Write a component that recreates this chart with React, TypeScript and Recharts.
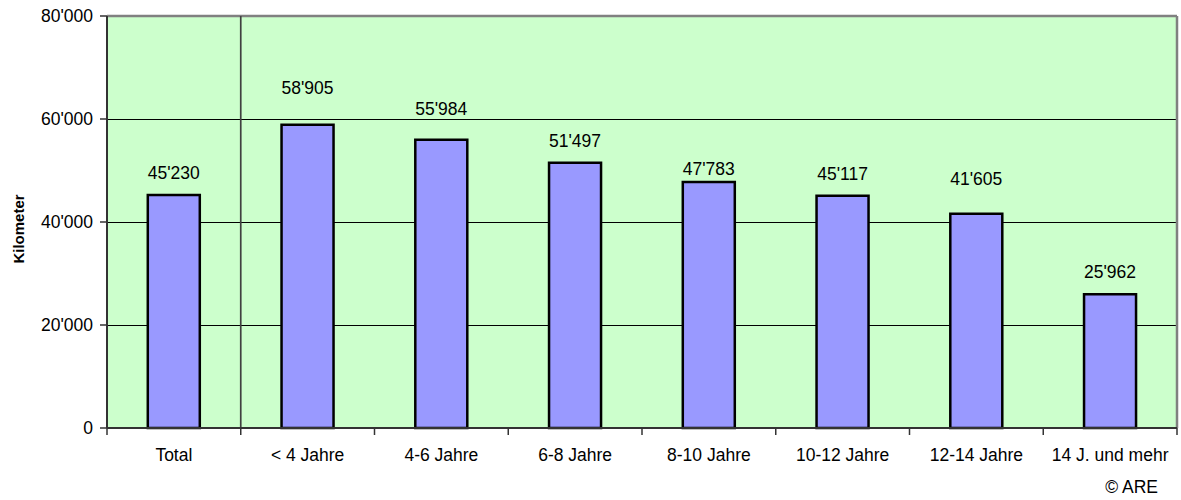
import React from 'react';
import { BarChart, Bar, XAxis, YAxis, CartesianGrid, ReferenceLine, LabelList } from 'recharts';

const categories = ['Total', '< 4 Jahre', '4-6 Jahre', '6-8 Jahre', '8-10 Jahre', '10-12 Jahre', '12-14 Jahre', '14 J. und mehr'];
const values = [45230, 58905, 55984, 51497, 47783, 45117, 41605, 25962];
const yTicks = [0, 20000, 40000, 60000, 80000];
// vertical nudges of value labels (style only)
const labelNudge = [0, 15, 9, 0, -9, 0, 13, 0];

const data = categories.map((c, i) => ({ name: c, value: values[i], idx: i }));

const FONT = '"Liberation Sans", Arial, sans-serif';
const fmt = (n: number) => String(n).replace(/\B(?=(\d{3})+(?!\d))/g, "'");

const XTick = (props: any) => {
  const { x, y, payload, index, visibleTicksCount } = props;
  const half = payload && payload.offset ? payload.offset : 0;
  const last = index === (visibleTicksCount ?? categories.length) - 1;
  return (
    <g>
      <line x1={x - half} x2={x - half} y1={y - 7} y2={y} stroke="#333" strokeWidth={1.5} />
      {last && <line x1={x + half} x2={x + half} y1={y - 7} y2={y} stroke="#333" strokeWidth={1.5} />}
      <text x={x} y={y + 26} textAnchor="middle" fontFamily={FONT} fontSize={17.5} fill="#000">
        {payload.value}
      </text>
    </g>
  );
};

const ValueLabel = (props: any) => {
  const { x, y, width, value, index } = props;
  const nudge = labelNudge[index] ?? 0;
  return (
    <text x={x + width / 2} y={y - 16 - nudge} textAnchor="middle" fontFamily={FONT} fontSize={17.5} fill="#000">
      {fmt(value)}
    </text>
  );
};

const YLabel = (props: any) => {
  const vb = props.viewBox || { x: 0, y: 0, width: 0, height: 0 };
  const cx = vb.x + 18;
  const cy = vb.y + vb.height / 2 + 7;
  return (
    <text x={cx} y={cy} transform={`rotate(-90 ${cx} ${cy})`} textAnchor="middle" dominantBaseline="central"
      fontFamily={FONT} fontSize={15} fontWeight="bold" fill="#000">
      Kilometer
    </text>
  );
};

export default function App() {
  return (
    <div style={{ position: 'absolute', left: 0, top: 0, width: 1181, height: 500, background: '#fff' }}>
      <BarChart width={1181} height={500} data={data} margin={{ top: 16, right: 4, bottom: 42, left: 0 }}
        barCategoryGap="30.5%">
        <CartesianGrid horizontal vertical={false} fill="#CCFFCC" stroke="#000" strokeWidth={1} shapeRendering="crispEdges" />
        <XAxis dataKey="name" type="category" interval={0} height={30} axisLine={{ stroke: '#333', strokeWidth: 2 }}
          tickLine={false} tickSize={7} tickMargin={0} tick={<XTick />} />
        <XAxis xAxisId="num" type="number" dataKey="idx" domain={[0, categories.length]} allowDataOverflow hide />
        <YAxis width={107} domain={[0, 80000]} ticks={yTicks} tickFormatter={fmt} interval={0}
          axisLine={{ stroke: '#333', strokeWidth: 2 }} tickLine={{ stroke: '#333', strokeWidth: 1.5 }}
          tickSize={7} tickMargin={7}
          tick={{ fontFamily: FONT, fontSize: 17.5, fill: '#000' }}
          label={<YLabel />} />
        <ReferenceLine y={80000} stroke="#808080" strokeWidth={2.5} />
        <ReferenceLine xAxisId="num" x={categories.length} stroke="#808080" strokeWidth={2.5} />
        <ReferenceLine xAxisId="num" x={1} stroke="#404040" strokeWidth={1.7} />
        <Bar dataKey="value" fill="#9999FF" stroke="#000" strokeWidth={2.5} isAnimationActive={false}>
          <LabelList dataKey="value" content={<ValueLabel />} />
        </Bar>
      </BarChart>
      <div style={{ position: 'absolute', right: 23, top: 477, fontFamily: FONT, fontSize: 17.5, color: '#000' }}>
        © ARE
      </div>
    </div>
  );
}
